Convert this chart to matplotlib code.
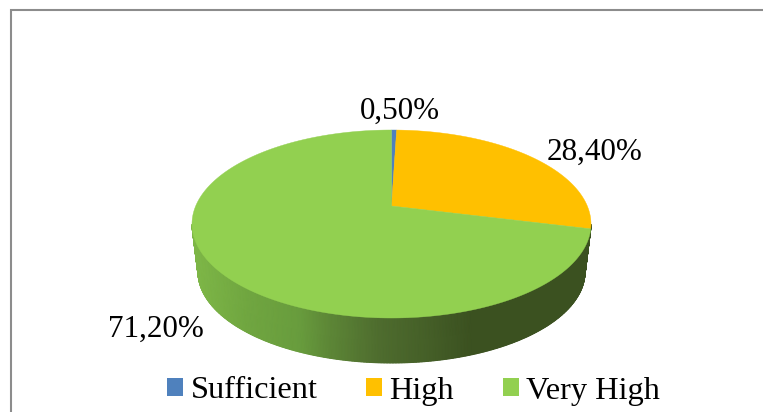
import numpy as np
import matplotlib
matplotlib.use("Agg")
import matplotlib.pyplot as plt
from matplotlib.colors import LinearSegmentedColormap
from matplotlib.patches import Patch, Polygon

plt.rcParams['font.family'] = ['Liberation Serif', 'DejaVu Serif']

# shares of each category, in percent
categories = ["Sufficient", "High", "Very High"]
shares = [0.5, 28.4, 71.2]
share_labels = ["0,50%", "28,40%", "71,20%"]
colors = ["#4F81BD", "#FFC000", "#92D050"]

# pie geometry in pixels, y going down
APEX_X, APEX_Y = 391.5, 206
TILT = 0.1915      # perspective strength
RX, RY = 195.8, 90.55
ELL_CX, ELL_CY = 391.5, 224
ELL_RX, ELL_RY = 199.5, 94
WALL_SCALE = 0.97
WALL_BOTTOM = 363

label_pos = [(400, 111), (595, 152), (156, 329)]


# disk point -> screen point, the far side of the disk gets squeezed
def project(u, v):
    d = 1 + TILT * v
    return APEX_X + RX * u / d, APEX_Y - RY * v / d


def rim(theta):
    return project(np.sin(theta), np.cos(theta))


fig = plt.figure(figsize=(7.63, 4.12), dpi=100)
ax = fig.add_axes([0, 0, 1, 1])
ax.set_xlim(0, 763)
ax.set_ylim(412, 0)
ax.axis("off")

# chart frame, only top and left are visible
ax.plot([10.5, 10.5, 763], [412, 10, 10], color="#8C8C8C", lw=1.5, solid_joinstyle="miter")

# side wall: mesh between the front half of the top rim and the lower rim
s = np.linspace(0, np.pi, 400)
top_x = ELL_CX + ELL_RX * np.cos(s)
top_y = ELL_CY + ELL_RY * np.sin(s)
low_cy = WALL_BOTTOM - ELL_RY * WALL_SCALE
low_x = ELL_CX + ELL_RX * WALL_SCALE * np.cos(s)
low_y = low_cy + ELL_RY * WALL_SCALE * np.sin(s)

wall_cmap = LinearSegmentedColormap.from_list(
    "wall",
    [(0.0, "#7FB848"), (0.14, "#70A640"), (0.27, "#689C3D"), (0.35, "#5C8536"),
     (0.47, "#4E6C2E"), (0.6, "#445E27"), (0.7, "#3B5120"), (1.0, "#3B5120")],
)
mesh_x = np.vstack([top_x, low_x])
mesh_y = np.vstack([top_y, low_y])
ax.pcolormesh(mesh_x, mesh_y, (mesh_x - 192) / 399, cmap=wall_cmap, vmin=0, vmax=1,
              shading="gouraud", zorder=1)
ax.set_xlim(0, 763)
ax.set_ylim(412, 0)

# top face, wedges run clockwise from 12 o'clock
total = sum(shares)
start = 0.0
for share, col in zip(shares, colors):
    end = start + share / total * 2 * np.pi
    th = np.linspace(start, end, max(int(share * 4), 6))
    x, y = rim(th)
    pts = np.column_stack([np.r_[APEX_X, x], np.r_[APEX_Y, y]])
    ax.add_patch(Polygon(pts, closed=True, fc=col, ec=col, lw=0.3, zorder=2))
    start = end

for lab, (lx, ly) in zip(share_labels, label_pos):
    ax.text(lx, ly, lab, fontsize=22.4, ha="center", va="center", color="black")

handles = [Patch(fc=c, ec="none") for c in colors]
ax.legend(
    handles, categories, ncol=3, loc="center", bbox_to_anchor=(413.5, 391),
    bbox_transform=ax.transData, frameon=False, fontsize=23.3,
    handlelength=0.5, handleheight=0.5, handletextpad=0.22, columnspacing=1.5,
    borderpad=0, borderaxespad=0,
)

fig.savefig("out.png", dpi=100)
